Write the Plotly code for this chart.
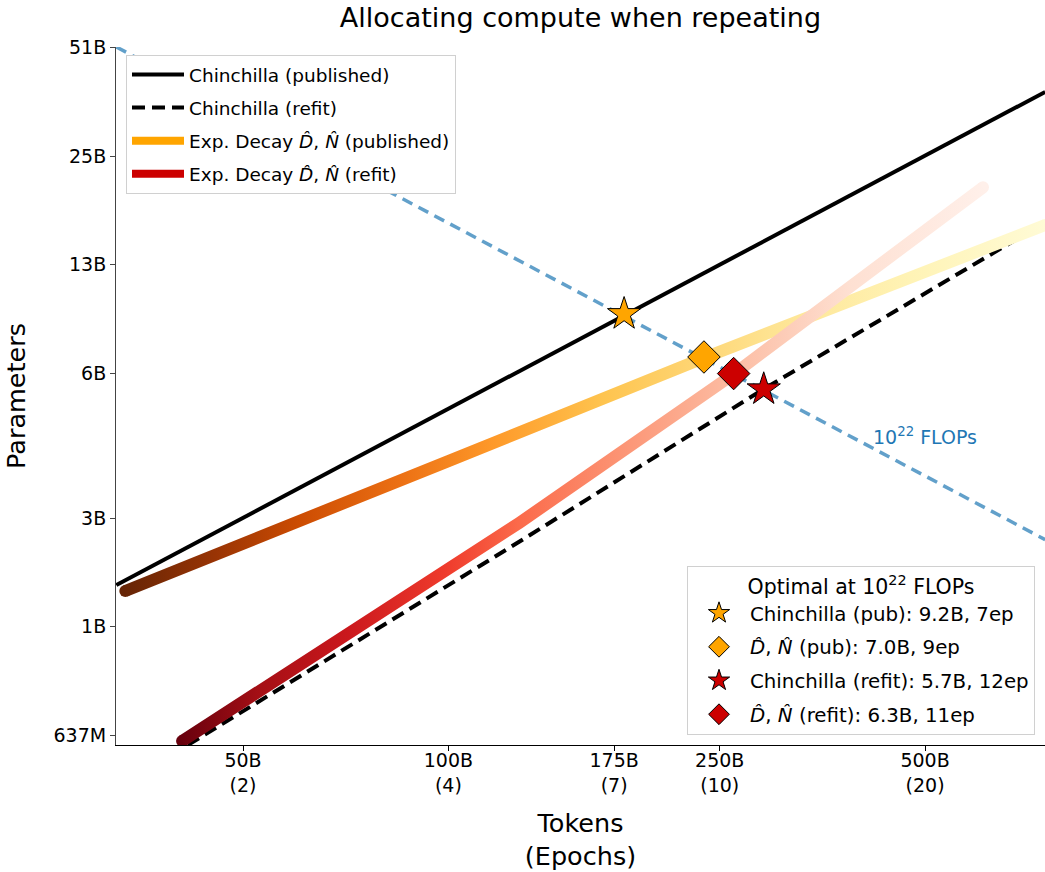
import numpy as np
import plotly.graph_objects as go

# ---------------- data ----------------
x_tick_tokens = [50e9, 100e9, 175e9, 250e9, 500e9]
x_tick_labels = ["50B<br>(2)", "100B<br>(4)", "175B<br>(7)", "250B<br>(10)", "500B<br>(20)"]
y_tick_params = [6.31e8, 1.26e9, 2.51e9, 6.31e9, 1.26e10, 2.51e10, 5.01e10]
y_tick_labels = ["637M", "1B", "3B", "6B", "13B", "25B", "51B"]

chin_pub_tokens = [32.6e9, 750e9]
chin_pub_params = [1.64e9, 37.8e9]

chin_refit_tokens = [41.5e9, 127e9, 290e9, 644e9, 750e9]
chin_refit_params = [0.593e9, 2.16e9, 5.71e9, 13.9e9, 16.5e9]

exp_pub_tokens = [33.6e9, 100e9, 237e9, 750e9]
exp_pub_params = [1.58e9, 3.61e9, 6.96e9, 16.2e9]

exp_refit_tokens = [40.7e9, 127e9, 262e9, 608e9]
exp_refit_params = [0.608e9, 2.435e9, 6.28e9, 20.6e9]

iso_tokens = [32.6e9, 750e9]
iso_params = [50.3e9, 2.19e9]

opt_names = ["Chinchilla (pub): 9.2B, 7ep",
             "<i>D̂</i>, <i>N̂</i> (pub): 7.0B, 9ep",
             "Chinchilla (refit): 5.7B, 12ep",
             "<i>D̂</i>, <i>N̂</i> (refit): 6.3B, 11ep"]
opt_tokens = [181e9, 237e9, 290e9, 262e9]
opt_params = [9.2e9, 7.0e9, 5.7e9, 6.3e9]

# ---------------- layout geometry / styles ----------------
W, H = 1045, 872
ML, MR, MT, MB = 116, 0, 47, 127
x_range = [np.log10(32.56e9), np.log10(749.6e9)]
y_range = [np.log10(0.593e9), np.log10(50.3e9)]
FONT = "DejaVu Sans"
ORANGE = "#FFA500"
RED = "#CC0000"

orange_scale = [[0, "#662506"], [0.1, "#993404"], [0.19, "#cc4c02"], [0.3, "#ec7014"],
                [0.4, "#fe9929"], [0.52, "#fec44f"], [0.7, "#fee391"], [0.85, "#fff3b5"],
                [1, "#fffbd6"]]
red_scale = [[0, "#67000d"], [0.1, "#a50f15"], [0.21, "#cb181d"], [0.33, "#ef3b2c"],
             [0.42, "#fb6a4a"], [0.54, "#fc9272"], [0.68, "#fcbba1"], [0.83, "#fee0d2"],
             [1, "#fff0ea"]]


def band(tokens, params, width_px):
    """Thick stroke outline (in data space) around a polyline, for a gradient fill."""
    sx = (W - ML - MR) / (x_range[1] - x_range[0])
    sy = (H - MT - MB) / (y_range[1] - y_range[0])
    u = np.log10(tokens) * sx
    v = np.log10(params) * sy
    n = len(u)
    h = width_px / 2.0
    up, lo = [], []
    for i in range(n):
        a, b = max(i - 1, 0), min(i + 1, n - 1)
        du, dv = u[b] - u[a], v[b] - v[a]
        L = np.hypot(du, dv)
        nx, ny = -dv / L, du / L
        up.append((u[i] + nx * h, v[i] + ny * h))
        lo.append((u[i] - nx * h, v[i] - ny * h))
    pts = up + lo[::-1] + [up[0]]
    xs = [10 ** (p[0] / sx) for p in pts]
    ys = [10 ** (p[1] / sy) for p in pts]
    return xs, ys


fig = go.Figure()

# Chinchilla lines
fig.add_trace(go.Scatter(x=chin_pub_tokens, y=chin_pub_params, mode="lines",
                         line=dict(color="black", width=4), name="Chinchilla (published)",
                         legend="legend", legendgroup="a"))
fig.add_trace(go.Scatter(x=chin_refit_tokens, y=chin_refit_params, mode="lines",
                         line=dict(color="black", width=4, dash="13px,7px"),
                         name="Chinchilla (refit)", legend="legend", legendgroup="b"))
# legend entries for gradient lines
fig.add_trace(go.Scatter(x=[None], y=[None], mode="lines", line=dict(color=ORANGE, width=8),
                         name="Exp. Decay <i>D̂</i>, <i>N̂</i> (published)", legend="legend",
                         legendgroup="c"))
fig.add_trace(go.Scatter(x=[None], y=[None], mode="lines", line=dict(color=RED, width=8),
                         name="Exp. Decay <i>D̂</i>, <i>N̂</i> (refit)", legend="legend",
                         legendgroup="d"))

# gradient bands
LW = 12
for toks, pars, cs in [(exp_pub_tokens, exp_pub_params, orange_scale),
                       (exp_refit_tokens, exp_refit_params, red_scale)]:
    fig.add_trace(go.Scatter(x=[toks[0], toks[-1]], y=[pars[0], pars[-1]], mode="markers",
                             marker=dict(size=LW, color=[cs[0][1], cs[-1][1]], line=dict(width=0)),
                             showlegend=False, hoverinfo="skip"))
    bx, by = band(toks, pars, LW)
    fig.add_trace(go.Scatter(x=bx, y=by, mode="none", fill="toself",
                             fillgradient=dict(type="horizontal", colorscale=cs),
                             showlegend=False, hoverinfo="skip"))

# iso-FLOP line
fig.add_trace(go.Scatter(x=iso_tokens, y=iso_params, mode="lines",
                         line=dict(color="rgba(31,119,180,0.7)", width=3.5, dash="11px,7px"),
                         showlegend=False, hoverinfo="skip"))

# optimal points
symbols = ["star", "diamond", "star", "diamond"]
colors = [ORANGE, ORANGE, RED, RED]
for k, (name, t, p, s, c) in enumerate(zip(opt_names, opt_tokens, opt_params, symbols, colors)):
    fig.add_trace(go.Scatter(x=[t], y=[p], mode="markers", name=name, legend="legend2",
                             legendgroup="o%d" % k,
                             marker=dict(symbol=s, size=25, color=c,
                                         line=dict(color="black", width=1))))

fig.add_annotation(x=np.log10(500e9), y=np.log10(4.23e9), xref="x", yref="y",
                   text="10<sup>22</sup> FLOPs", showarrow=False,
                   font=dict(family=FONT, size=19, color="#1f77b4"))

fig.update_layout(
    width=W, height=H,
    margin=dict(l=ML, r=MR, t=MT, b=MB, pad=0),
    paper_bgcolor="white", plot_bgcolor="white",
    font=dict(family=FONT, size=18, color="black"),
    title=dict(text="Allocating compute when repeating", x=0.5, xref="paper",
               y=1 - 18 / H, yref="container", yanchor="middle", xanchor="center",
               font=dict(family=FONT, size=27, color="black")),
    legend=dict(x=(126 - ML) / (W - ML - MR), y=(H - MB - 55) / (H - MT - MB),
                xanchor="left", yanchor="top", bgcolor="white", bordercolor="#d0d0d0",
                borderwidth=1, font=dict(family=FONT, size=18.5), itemwidth=52,
                traceorder="grouped", tracegroupgap=6),
    legend2=dict(x=(1035 - ML) / (W - ML - MR), y=(H - MB - 735) / (H - MT - MB),
                 xanchor="right", yanchor="bottom", bgcolor="white", bordercolor="#d0d0d0",
                 borderwidth=1, font=dict(family=FONT, size=19.8), itemwidth=52,
                 traceorder="grouped", tracegroupgap=5,
                 title=dict(text="Optimal at 10<sup>22</sup> FLOPs", side="top center",
                            font=dict(family=FONT, size=20.5))),
    showlegend=True,
)
fig.update_xaxes(type="log", range=x_range, tickvals=x_tick_tokens, ticktext=x_tick_labels,
                 showgrid=False, zeroline=False, showline=True, linecolor="black", linewidth=1,
                 ticks="outside", ticklen=5, tickcolor="black", tickfont=dict(size=19),
                 ticklabelstandoff=-7,
                 mirror=False, automargin=False,
                 title=dict(text="Tokens<br>(Epochs)", font=dict(size=25.5), standoff=19))
fig.update_yaxes(type="log", range=y_range, tickvals=y_tick_params, ticktext=y_tick_labels,
                 showgrid=False, zeroline=False, showline=True, linecolor="#444", linewidth=1,
                 ticks="outside", ticklen=5, tickcolor="#444", tickfont=dict(size=19),
                 mirror=False, automargin=False,
                 title=dict(text="Parameters", font=dict(size=25.5), standoff=20))

fig.write_html("out.html", post_script="document.body.style.margin='0px';",
               config={"displayModeBar": False})
